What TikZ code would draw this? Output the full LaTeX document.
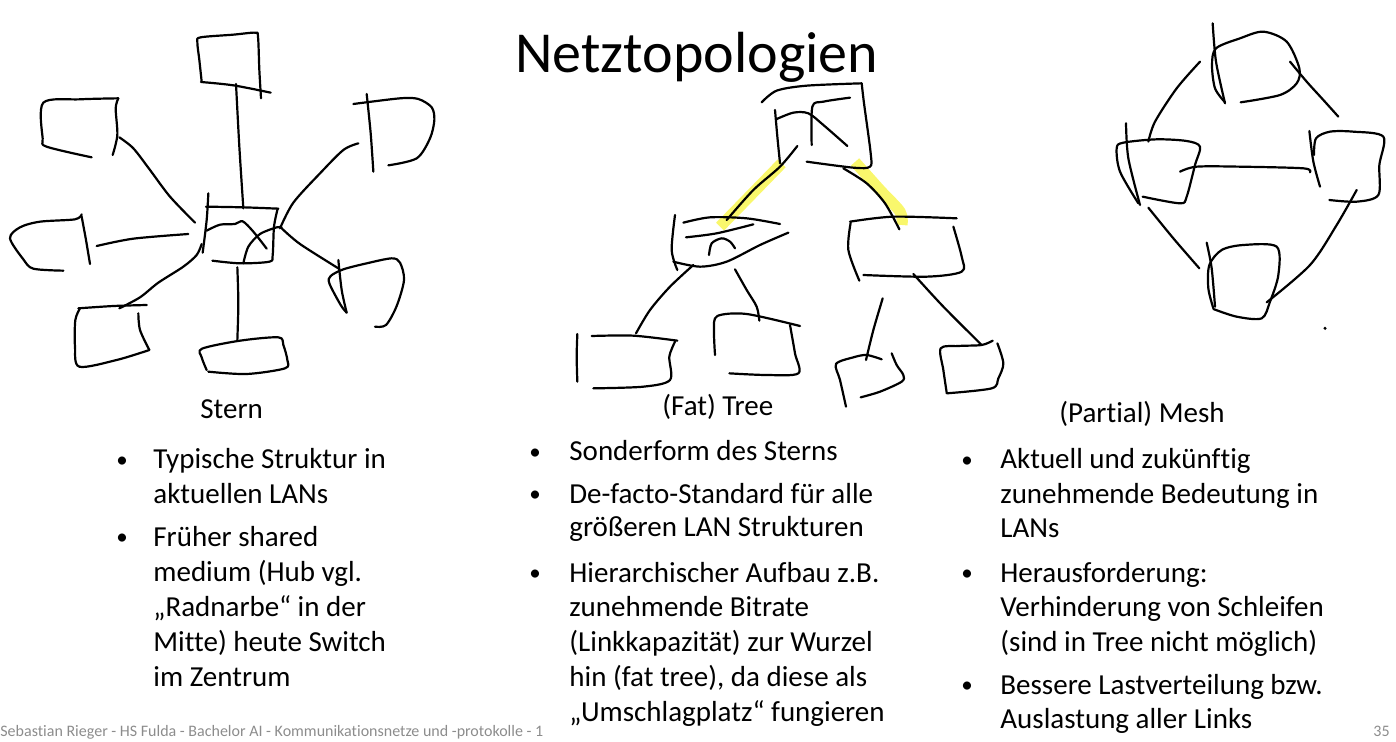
\documentclass[tikz,border=0pt]{standalone}
\usepackage{fontspec}
\setmainfont[Ligatures=NoCommon]{Carlito}
\newcommand\txtsize{\fontsize{14.5pt}{17.5pt}\selectfont}
\newcommand\bulsize{\fontsize{11.5pt}{14pt}\selectfont}
\newcommand\headsize{\fontsize{29pt}{35pt}\selectfont}
\newcommand\footsize{\fontsize{8pt}{9.5pt}\selectfont}
\definecolor{marker}{RGB}{249,247,108}
\definecolor{footgray}{RGB}{140,140,140}
\tikzset{
  ink/.style={line width=1.1pt, line cap=round, line join=round},
  hl/.style={line width=5.6pt, draw=marker, line cap=butt},
  txt/.style={anchor=base west, inner sep=0pt, font=\txtsize},
  bul/.style={anchor=base, inner sep=0pt, font=\bulsize, yshift=0.6pt},
  sketch/.style={x=0.16667pt, y=-0.16667pt}
}
\begin{document}
\begin{tikzpicture}[x=0.5pt, y=-0.5pt]
\useasboundingbox (0,0) rectangle (1396,742);

% title
\node[anchor=base west, inner sep=0pt, font=\headsize] (title) at (515,73) {Netztopologien};

% ---------- star ----------
\begin{scope}[shift={(0,20)}, sketch]
  % top box
  \draw[ink] plot[smooth] coordinates {(605,185) (598,120) (592,66) (602,52) (700,44) (765,38) (774,50) (778,150) (783,235)};
  \draw[ink] plot[smooth] coordinates {(603,186) (700,196) (812,218)};
  \draw[ink] plot[smooth] coordinates {(708,192) (718,380) (730,565)};
  % hub
  \draw[ink] plot[smooth] coordinates {(618,560) (730,562) (835,566)};
  \draw[ink] plot[smooth] coordinates {(625,520) (620,600) (608,698)};
  \draw[ink] plot[smooth] coordinates {(833,566) (822,620) (818,705) (808,725) (720,730) (637,722)};
  \draw[ink] plot[smooth] coordinates {(620,632) (660,614) (705,612) (728,604) (760,635) (800,686)};
  \draw[ink] plot[smooth] coordinates {(730,730) (745,680) (780,642) (830,622) (845,622)};
  % bottom centre
  \draw[ink] plot[smooth] coordinates {(712,742) (715,850) (712,960)};
  \draw[ink] plot[smooth] coordinates {(620,1050) (605,1012) (606,986) (720,962) (835,952) (850,975) (862,1020) (855,1045) (740,1062) (625,1055)};
  % lower left
  \draw[ink] plot[smooth] coordinates {(235,865) (340,858) (440,855)};
  \draw[ink] plot[smooth] coordinates {(240,865) (226,900) (225,980) (238,1040) (350,1020) (448,990)};
  \draw[ink] plot[smooth] coordinates {(415,880) (420,930) (448,990)};
  \draw[ink] plot[smooth] coordinates {(358,865) (420,832) (475,788) (550,740) (590,705) (605,672)};
  % left
  \draw[ink] plot[smooth] coordinates {(245,583) (225,598) (120,605) (60,622) (30,655) (70,718) (100,746) (190,752)};
  \draw[ink] plot[smooth] coordinates {(245,590) (258,660) (270,732)};
  \draw[ink] plot[smooth] coordinates {(290,678) (400,656) (565,642)};
  % upper left
  \draw[ink] plot[smooth] coordinates {(275,412) (140,380) (128,355) (130,248) (240,238) (355,235)};
  \draw[ink] plot[smooth] coordinates {(355,235) (347,265) (352,345) (338,405)};
  \draw[ink] plot[smooth] coordinates {(358,352) (400,385) (450,450) (510,530) (585,608)};
  % upper right
  \draw[ink] plot[smooth] coordinates {(1060,252) (1200,235) (1255,237) (1295,262) (1303,300) (1290,355) (1250,415) (1165,436)};
  \draw[ink] plot[smooth] coordinates {(1100,222) (1112,340) (1120,455)};
  \draw[ink] plot[smooth] coordinates {(1075,370) (1030,390) (960,460) (880,548) (840,625)};
  % lower right
  \draw[ink] plot[smooth] coordinates {(1015,720) (1025,810) (1040,878)};
  \draw[ink] plot[smooth] coordinates {(1040,878) (1022,855) (988,790) (992,768) (1030,748) (1100,730) (1175,715) (1200,728) (1212,780) (1190,858) (1158,915) (1125,920)};
  \draw[ink] plot[smooth] coordinates {(845,625) (900,672) (1015,745)};
\end{scope}

% ---------- tree ----------
\begin{scope}[shift={(560,70)}, sketch]
  % marker strokes on the uplinks
  \draw[hl] (665,280) -- (480,470);
  \draw[hl] plot[smooth] coordinates {(885,276) (960,360) (1020,425) (1026,465)};
  % root
  \draw[ink] plot[smooth] coordinates {(605,97) (650,62) (740,47) (905,40)};
  \draw[ink] plot[smooth] coordinates {(905,40) (912,100) (932,250) (930,290) (880,293) (740,275)};
  \draw[ink] plot[smooth] coordinates {(645,120) (652,200) (660,280)};
  \draw[ink] plot[smooth] coordinates {(648,148) (700,128) (745,130) (790,165) (862,228)};
  \draw[ink] plot[smooth] coordinates {(755,225) (757,110) (790,95) (870,83)};
  % uplinks
  \draw[ink] plot[smooth] coordinates {(712,228) (660,290) (580,360) (500,450)};
  \draw[ink] plot[smooth] coordinates {(850,295) (920,340) (975,400) (1018,478)};
  % left switch
  \draw[ink] plot[smooth] coordinates {(345,435) (335,540) (352,600)};
  \draw[ink] plot[smooth] coordinates {(370,458) (450,442) (560,445) (660,462)};
  \draw[ink] plot[smooth] coordinates {(378,502) (470,490) (580,463)};
  \draw[ink] plot[smooth] coordinates {(340,575) (420,590) (500,575) (600,525) (685,488)};
  \draw[ink] plot[smooth] coordinates {(447,555) (455,520) (485,505) (510,515) (525,535)};
  \draw[ink] plot[smooth] coordinates {(400,585) (330,650) (270,720) (228,790)};
  \draw[ink] plot[smooth] coordinates {(525,598) (560,660) (590,710) (598,752)};
  % right switch
  \draw[ink] plot[smooth] coordinates {(870,455) (1000,440) (1190,445)};
  \draw[ink] plot[smooth] coordinates {(872,458) (865,540) (898,632)};
  \draw[ink] plot[smooth] coordinates {(1180,470) (1205,560) (1205,605) (1100,620) (910,615)};
  \draw[ink] plot[smooth] coordinates {(1060,612) (1150,710) (1265,825)};
  \draw[ink] plot[smooth] coordinates {(968,685) (940,780) (918,870)};
  % leaves
  \draw[ink] plot[smooth] coordinates {(52,792) (50,860) (52,935)};
  \draw[ink] plot[smooth] coordinates {(95,798) (220,797) (352,812)};
  \draw[ink] plot[smooth] coordinates {(345,815) (328,860) (330,930) (250,950) (100,955)};
  \draw[ink] plot[smooth] coordinates {(465,855) (462,780) (472,738) (560,732) (720,768)};
  \draw[ink] plot[smooth] coordinates {(690,765) (705,850) (715,910) (620,915) (508,910)};
  \draw[ink] plot[smooth] coordinates {(858,1010) (840,930) (828,882) (880,862) (920,855) (965,868)};
  \draw[ink] plot[smooth] coordinates {(995,850) (1010,885) (1030,915) (1025,935) (960,965) (902,982)};
  \draw[ink] plot[smooth] coordinates {(1160,968) (1150,900) (1142,835) (1195,828) (1265,825) (1298,812)};
  \draw[ink] plot[smooth] coordinates {(1312,820) (1330,880) (1315,925) (1295,955) (1160,970)};
\end{scope}

% ---------- mesh ----------
\begin{scope}[shift={(1090,15)}, sketch]
  % top
  \draw[ink] plot[smooth] coordinates {(368,25) (378,140) (405,265)};
  \draw[ink] plot[smooth] coordinates {(405,262) (375,220) (366,150) (378,100) (450,70) (520,50) (590,80) (628,160) (620,205) (570,240) (452,262)};
  \draw[ink] plot[smooth] coordinates {(330,140) (260,220) (195,320) (175,380)};
  \draw[ink] plot[smooth] coordinates {(600,140) (650,200) (700,255) (745,305)};
  % left
  \draw[ink] plot[smooth] coordinates {(108,325) (115,430) (150,570)};
  \draw[ink] plot[smooth] coordinates {(145,565) (90,470) (80,400) (100,383) (200,373) (290,378) (330,395) (315,450) (290,545) (270,565) (158,545)};
  \draw[ink] plot[smooth] coordinates {(270,470) (320,455) (450,455) (640,460) (660,472)};
  \draw[ink] plot[smooth] coordinates {(175,578) (250,670) (328,760)};
  % right
  \draw[ink] plot[smooth] coordinates {(658,348) (670,440) (690,515)};
  \draw[ink] plot[smooth] coordinates {(672,420) (678,370) (720,350) (790,350) (880,365) (868,450) (865,540) (800,560) (718,555)};
  \draw[ink] plot[smooth] coordinates {(800,525) (740,630) (660,750) (530,862)};
  % bottom
  \draw[ink] plot[smooth] coordinates {(350,683) (365,760) (375,875)};
  \draw[ink] plot[smooth] coordinates {(370,880) (355,820) (358,750) (395,705) (460,690) (560,695) (565,780) (540,860) (515,910) (440,905) (370,882)};
  \fill (705,940) circle (5);
\end{scope}

% ---------- captions and bullet lists ----------
\node[txt] (sternhead) at (200,419) {Stern};
\node[bul] (sb1) at (122,469) {•};
\node[txt] (s1a) at (153,469) {Typische Struktur in};
\node[txt] (s1b) at (153,503) {aktuellen LANs};
\node[bul] (sb2) at (122,546) {•};
\node[txt] (s2a) at (153,546) {Früher shared};
\node[txt] (s2b) at (153,581) {medium (Hub vgl.};
\node[txt] (s2c) at (153,616) {„Radnarbe“ in der};
\node[txt] (s2d) at (153,651) {Mitte) heute Switch};
\node[txt] (s2e) at (153,686) {im Zentrum};

\node[txt] (treehead) at (662,416) {(Fat) Tree};
\node[bul] (tb1) at (535,461) {•};
\node[txt] (t1) at (569,461) {Sonderform des Sterns};
\node[bul] (tb2) at (535,503) {•};
\node[txt] (t2a) at (569,503) {De-facto-Standard für alle};
\node[txt] (t2b) at (569,537) {größeren LAN Strukturen};
\node[bul] (tb3) at (535,582) {•};
\node[txt] (t3a) at (569,582) {Hierarchischer Aufbau z.B.};
\node[txt] (t3b) at (569,616) {zunehmende Bitrate};
\node[txt] (t3c) at (569,651) {(Linkkapazität) zur Wurzel};
\node[txt] (t3d) at (569,686) {hin (fat tree), da diese als};
\node[txt] (t3e) at (569,721) {„Umschlagplatz“ fungieren};

\node[txt] (meshhead) at (1059,423) {(Partial) Mesh};
\node[bul] (mb1) at (967,469) {•};
\node[txt] (m1a) at (1000,469) {Aktuell und zukünftig};
\node[txt] (m1b) at (1000,503) {zunehmende Bedeutung in};
\node[txt] (m1c) at (1000,538) {LANs};
\node[bul] (mb2) at (967,582) {•};
\node[txt] (m2a) at (1000,582) {Herausforderung:};
\node[txt] (m2b) at (1000,616) {Verhinderung von Schleifen};
\node[txt] (m2c) at (1000,651) {(sind in Tree nicht möglich)};
\node[bul] (mb3) at (967,694) {•};
\node[txt] (m3a) at (1000,694) {Bessere Lastverteilung bzw.};
\node[txt] (m3b) at (1000,728) {Auslastung aller Links};

% footer
\node[anchor=base west, inner sep=0pt, font=\footsize, text=footgray] (foot) at (0,736) {Sebastian Rieger - HS Fulda - Bachelor AI - Kommunikationsnetze und -protokolle - 1};
\node[anchor=base west, inner sep=0pt, font=\footsize, text=footgray] (page) at (1373,736) {35};
\end{tikzpicture}
\end{document}
